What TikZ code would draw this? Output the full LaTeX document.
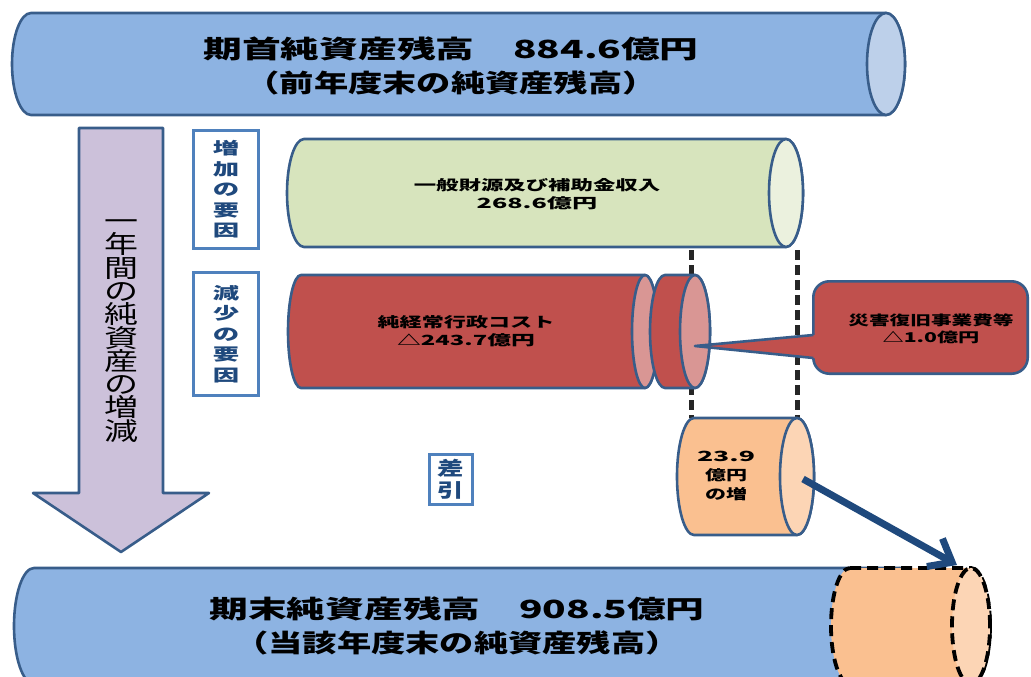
\documentclass[tikz,border=0pt]{standalone}
\usepackage{fontspec}
\usepackage{graphicx}
\newfontfamily\jp{Noto Sans CJK JP}
\usetikzlibrary{arrows.meta}
\definecolor{outl}{HTML}{385D8A}
\definecolor{bluebody}{HTML}{8DB3E2}
\definecolor{blueend}{HTML}{BDD0EA}
\definecolor{greenbody}{HTML}{D7E4BD}
\definecolor{greenend}{HTML}{EBF1DE}
\definecolor{redbody}{HTML}{C0504D}
\definecolor{pinkend}{HTML}{D99694}
\definecolor{orangebody}{HTML}{FAC090}
\definecolor{orangeend}{HTML}{FCD5B5}
\definecolor{lav}{HTML}{CCC1DA}
\definecolor{labblue}{HTML}{4F81BD}
\definecolor{labtext}{HTML}{1F497D}
\definecolor{arrowblue}{HTML}{1F497D}
\definecolor{dashgray}{HTML}{262626}
\newcommand\SX[2]{\scalebox{#1}[1]{#2}}
\newcommand\tightlines{\lineskiplimit=-50pt\relax\lineskip=0pt\relax}
% cylinder: #1 xL, #2 xR (end centre), #3 top, #4 bottom, #5 rx, #6 body style, #7 end style
\newcommand\cyl[7]{%
  \path[#6] ({#1+#5},-#3) -- (#2,-#3)
    arc[start angle=90,end angle=-90,x radius=#5,y radius={(#4-#3)/2}]
    -- ({#1+#5},-#4)
    arc[start angle=270,end angle=90,x radius=#5,y radius={(#4-#3)/2}] -- cycle;
  \path[#7] (#2,{-(#3+#4)/2}) ellipse[x radius=#5,y radius={(#4-#3)/2}];
}
\begin{document}
\begin{tikzpicture}[x=1pt,y=1pt,
  outl/.style={draw=outl,line width=2.6pt,line join=round},
  dashout/.style={draw=black,line width=3.8pt,dash pattern=on 11pt off 6pt,line join=round},
  big/.style={inner sep=0pt,align=center,font=\jp\bfseries\fontsize{25}{34}\selectfont},
  small/.style={inner sep=0pt,align=center,font=\jp\bfseries\fontsize{14}{18}\selectfont},
  labbox/.style={draw=labblue,line width=3pt,fill=white,inner sep=0pt,align=center,text=labtext,
    font=\jp\bfseries\fontsize{16.5}{20.5}\selectfont\tightlines},
  vert/.style={inner sep=0pt,align=center,font=\jp\fontsize{25}{23.3}\selectfont\tightlines},
  dashline/.style={draw=dashgray,line width=5pt,dash pattern=on 10pt off 5pt},
  bigarrow/.style={draw=arrowblue,line width=7pt,-{Straight Barb[length=20pt,width=32pt]}}]
\useasboundingbox (0,0) rectangle (1031,-677);
\clip (0,0) rectangle (1031,-677);

% opening balance
\cyl{12}{886}{13}{115}{19}{outl,fill=bluebody}{outl,fill=blueend}
\node[big] (opening) at (451,-66) {\SX{1.55}{期首純資産残高　884.6億円}\\\SX{1.37}{（前年度末の純資産残高）}};

% big down arrow
\draw[outl,fill=lav] (79,-128) -- (163,-128) -- (163,-493) -- (209,-493) -- (121,-552) -- (33,-493) -- (79,-493) -- cycle;
\node[vert] (yeartext) at (121,-331) {\SX{1.36}{一}\\\SX{1.36}{年}\\\SX{1.36}{間}\\\SX{1.36}{の}\\\SX{1.36}{純}\\\SX{1.36}{資}\\\SX{1.36}{産}\\\SX{1.36}{の}\\\SX{1.36}{増}\\\SX{1.36}{減}};

% label boxes
\node[labbox,minimum width=65,minimum height=118] (incbox) at (226,-189.5) {\SX{1.6}{増}\\\SX{1.6}{加}\\\SX{1.6}{の}\\\SX{1.6}{要}\\\SX{1.6}{因}};
\node[labbox,minimum width=65,minimum height=123] (decbox) at (226,-334) {\SX{1.6}{減}\\\SX{1.6}{少}\\\SX{1.6}{の}\\\SX{1.6}{要}\\\SX{1.6}{因}};
\node[labbox,minimum width=43,minimum height=50,font=\jp\bfseries\fontsize{19}{22}\selectfont\tightlines] (diffbox) at (451,-479) {\SX{1.4}{差}\\\SX{1.4}{引}};

% dashed guide lines
\coordinate (dlA1) at (691,-250);
\coordinate (dlA2) at (691,-418);
\coordinate (dlB1) at (797,-250);
\coordinate (dlB2) at (797,-418);
\draw[dashline] (dlA1) -- (dlA2);
\draw[dashline] (dlB1) -- (dlB2);

% increase: general revenue
\cyl{287}{786}{139}{247}{17}{outl,fill=greenbody}{outl,fill=greenend}
\node[small] (revenue) at (537,-194) {\SX{1.6}{一般財源及び補助金収入}\\\SX{1.8}{268.6億円}};

% decrease: net cost
\cyl{288}{645}{275}{388}{13}{outl,fill=redbody}{outl,fill=pinkend}
\cyl{650}{695}{275}{388}{15}{outl,fill=redbody}{outl,fill=pinkend}
\node[small] (netcost) at (466,-331) {\SX{1.58}{純経常行政コスト}\\\SX{1.7}{△243.7億円}};

% callout
\node[draw=outl,line width=2.6pt,fill=redbody,rounded corners=16pt,minimum width=214.4,minimum height=92.4,inner sep=0pt] (callout) at (920.5,-327.5) {};
\coordinate (ptip) at (695,-346);
\fill[redbody] (816,-335) -- (ptip) -- (816,-358) -- cycle;
\draw[outl] (813.3,-335) -- (ptip) -- (813.3,-358);
\node[small,font=\jp\bfseries\fontsize{13.5}{16.5}\selectfont] (disaster) at (931,-329) {\SX{1.53}{災害復旧事業費等}\\\SX{1.57}{△1.0億円}};

% difference cylinder
\cyl{677}{797}{418}{535}{17}{outl,fill=orangebody}{outl,fill=orangeend}
\node[small,font=\jp\bfseries\fontsize{14}{19}\selectfont] (diffval) at (726,-476) {\SX{1.9}{23.9}\\\SX{1.5}{億円}\\\SX{1.5}{の増}};

% closing balance
\cyl{14}{900}{568}{684}{20}{outl,fill=bluebody}{outl,fill=blueend}
\node[big] (closing) at (457,-626) {\SX{1.55}{期末純資産残高　908.5億円}\\\SX{1.37}{（当該年度末の純資産残高）}};
\cyl{831}{971}{568}{684}{19}{dashout,fill=orangebody}{dashout,fill=orangeend}

% arrow to closing
\coordinate (arrS) at (803,-479);
\coordinate (arrE) at (957,-565);
\draw[bigarrow] (arrS) -- (arrE);
\end{tikzpicture}
\end{document}
